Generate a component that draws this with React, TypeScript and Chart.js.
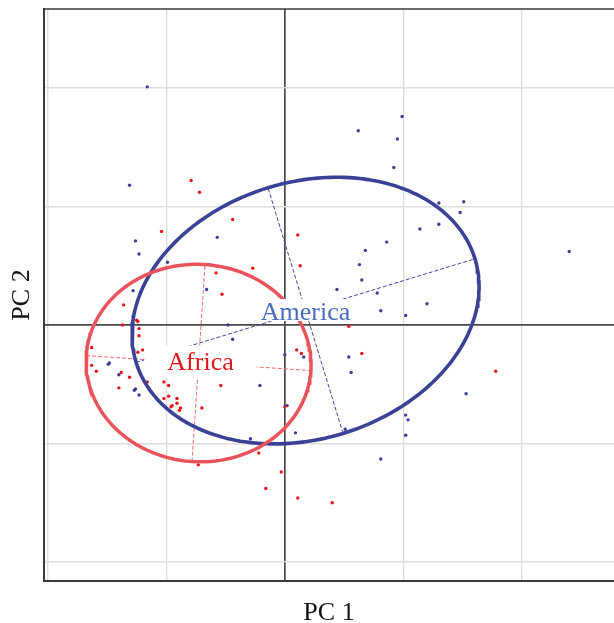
import React, { useEffect, useRef } from "react";
import { Chart, registerables } from "chart.js";

Chart.register(...registerables);

// PCA scores (PC1, PC2) per sample, grouped by region
const americaScores: [number, number][] = [
  [-1.16, 2.01], [-1.31, 1.18], [-1.26, 0.71], [-1.23, 0.6], [-0.99, 0.53],
  [-1.28, 0.29], [-0.66, 0.3], [-0.57, 0.74], [0.92, 1.33], [0.99, 1.76],
  [0.62, 1.64], [0.95, 1.57], [1.3, 1.03], [1.51, 1.04], [1.48, 0.95],
  [1.3, 0.85], [1.14, 0.81], [0.86, 0.7], [0.68, 0.63], [0.63, 0.51],
  [0.65, 0.38], [0.44, 0.3], [0.78, 0.27], [1.2, 0.18], [0.35, 0.18],
  [0.81, 0.12], [1.02, 0.08], [2.4, 0.62], [-0.48, 0.0], [-0.44, -0.12],
  [0.16, -0.27], [0.0, -0.25], [0.54, -0.27], [0.56, -0.4], [-0.21, -0.51],
  [1.53, -0.58], [0.02, -0.68], [1.02, -0.76], [1.04, -0.8], [0.51, -0.88],
  [1.02, -0.93], [0.09, -0.91], [-0.29, -0.96], [0.81, -1.13], [-1.49, -0.33],
  [-1.48, -0.32], [-1.4, -0.42], [-1.26, -0.54], [-1.27, -0.55], [-1.23, -0.59],
];

const africaScores: [number, number][] = [
  [-0.79, 1.22], [-0.72, 1.12], [-1.04, 0.79], [-0.44, 0.89], [0.11, 0.76],
  [-0.58, 0.44], [-0.27, 0.48], [0.13, 0.5], [-0.53, 0.26], [0.54, -0.01],
  [0.1, -0.21], [0.14, -0.24], [0.65, -0.24], [1.78, -0.39], [-0.54, -0.51],
  [-0.7, -0.7], [0.0, -0.69], [-0.22, -1.08], [-0.03, -1.24], [-0.16, -1.38],
  [0.11, -1.46], [0.4, -1.5], [-0.73, -1.18], [-1.36, 0.17], [-1.25, 0.04],
  [-1.24, 0.03], [-1.37, 0.0], [-1.23, -0.03], [-1.23, -0.09], [-1.63, -0.19],
  [-1.2, -0.21], [-1.24, -0.23], [-1.63, -0.34], [-1.59, -0.39], [-1.38, -0.4],
  [-1.31, -0.44], [-1.16, -0.48], [-1.02, -0.48], [-0.98, -0.51], [-1.4, -0.53],
  [-1.02, -0.62], [-0.98, -0.6], [-0.91, -0.62], [-0.91, -0.66], [-0.95, -0.68],
  [-0.96, -0.69], [-0.88, -0.7], [-0.89, -0.72],
];

// Confidence ellipses: centre, semi-axes and rotation (degrees)
const americaCenter = [0.175, 0.122];
const americaSemiAxes = [1.495, 1.084];
const americaAngle = 17;

const africaCenter = [-0.728, -0.321];
const africaSemiAxes = [0.95, 0.833];
const africaAngle = -3.8;

// Group name positions (PC1, PC2)
const americaLabelAt = [0.175, 0.122];
const africaLabelAt = [-0.711, -0.291];

const gridTicks = [-2, -1, 0, 1, 2];
const xRange = [-2.032, 2.778];
const yRange = [-2.16, 2.667];

const AMERICA_POINT = "#3d3f96";
const AFRICA_POINT = "#e8141c";
const AMERICA_LINE = "#3b4296";
const AFRICA_LINE = "#e9545c";

type Pt = { x: number; y: number };

function ellipseOutline(c: number[], ax: number[], deg: number): Pt[] {
  const th = (deg * Math.PI) / 180;
  const pts: Pt[] = [];
  for (let i = 0; i <= 240; i++) {
    const t = (i / 240) * Math.PI * 2;
    const u = ax[0] * Math.cos(t);
    const v = ax[1] * Math.sin(t);
    pts.push({
      x: c[0] + u * Math.cos(th) - v * Math.sin(th),
      y: c[1] + u * Math.sin(th) + v * Math.cos(th),
    });
  }
  return pts;
}

function ellipseAxes(c: number[], ax: number[], deg: number): [Pt[], Pt[]] {
  const th = (deg * Math.PI) / 180;
  const mx = ax[0] * Math.cos(th);
  const my = ax[0] * Math.sin(th);
  const nx = -ax[1] * Math.sin(th);
  const ny = ax[1] * Math.cos(th);
  return [
    [{ x: c[0] - mx, y: c[1] - my }, { x: c[0] + mx, y: c[1] + my }],
    [{ x: c[0] - nx, y: c[1] - ny }, { x: c[0] + nx, y: c[1] + ny }],
  ];
}

const groupLabels = [
  { text: "America", at: americaLabelAt, color: "#4a6cc0", padX: 1, padTop: 4, padBottom: 1 },
  { text: "Africa", at: africaLabelAt, color: "#e3141c", padX: 23, padTop: 6, padBottom: 8 },
];

const FONT = "'Liberation Serif', 'Times New Roman', serif";

const labelPlugin = {
  id: "groupLabels",
  afterDatasetsDraw(chart: any) {
    const { ctx, scales } = chart;
    ctx.save();
    ctx.font = `26px ${FONT}`;
    ctx.textAlign = "center";
    ctx.textBaseline = "alphabetic";
    for (const l of groupLabels) {
      const px = scales.x.getPixelForValue(l.at[0]);
      const py = scales.y.getPixelForValue(l.at[1]);
      const m = ctx.measureText(l.text);
      const w = m.width;
      const asc = m.actualBoundingBoxAscent;
      const base = py + asc / 2 + 1;
      ctx.fillStyle = "#ffffff";
      ctx.fillRect(
        px - w / 2 - l.padX,
        base - asc - l.padTop,
        w + 2 * l.padX,
        asc + l.padTop + l.padBottom
      );
      ctx.fillStyle = l.color;
      ctx.fillText(l.text, px, base);
    }
    ctx.restore();
  },
  afterDraw(chart: any) {
    const { ctx, chartArea } = chart;
    ctx.save();
    ctx.fillStyle = "#111";
    ctx.font = `26px ${FONT}`;
    ctx.textAlign = "center";
    ctx.textBaseline = "alphabetic";
    ctx.fillText("PC 1", (chartArea.left + chartArea.right) / 2, 620);
    ctx.translate(29, (chartArea.top + chartArea.bottom) / 2);
    ctx.rotate(-Math.PI / 2);
    ctx.fillText("PC 2", 0, 0);
    ctx.restore();
    // frame along the top edge
    ctx.save();
    ctx.strokeStyle = "#3a3a3a";
    ctx.lineWidth = 1.5;
    ctx.beginPath();
    ctx.moveTo(chartArea.left, chartArea.top);
    ctx.lineTo(chartArea.right, chartArea.top);
    ctx.stroke();
    ctx.restore();
  },
};

export default function App() {
  const ref = useRef<HTMLCanvasElement | null>(null);

  useEffect(() => {
    if (!ref.current) return;
    const [amMajor, amMinor] = ellipseAxes(americaCenter, americaSemiAxes, americaAngle);
    const [afMajor, afMinor] = ellipseAxes(africaCenter, africaSemiAxes, africaAngle);
    const dashed = (data: Pt[], color: string, order: number) => ({
      type: "line" as const,
      data,
      showLine: true,
      borderColor: color,
      borderWidth: 1,
      borderDash: [4, 2],
      pointRadius: 0,
      fill: false,
      order,
    });

    const chart = new Chart(ref.current, {
      type: "scatter",
      data: {
        datasets: [
          {
            type: "line",
            label: "Africa ellipse",
            data: ellipseOutline(africaCenter, africaSemiAxes, africaAngle),
            borderColor: AFRICA_LINE,
            borderWidth: 3.5,
            pointRadius: 0,
            fill: false,
            tension: 0,
            order: 1,
          } as any,
          {
            type: "line",
            label: "America ellipse",
            data: ellipseOutline(americaCenter, americaSemiAxes, americaAngle),
            borderColor: AMERICA_LINE,
            borderWidth: 3.6,
            pointRadius: 0,
            fill: false,
            tension: 0,
            order: 2,
          } as any,
          dashed(amMajor, "#4048a0", 3) as any,
          dashed(amMinor, "#4048a0", 3) as any,
          dashed(afMajor, "#f06a70", 3) as any,
          dashed(afMinor, "#f06a70", 3) as any,
          {
            label: "Africa",
            data: africaScores.map(([x, y]) => ({ x, y })),
            backgroundColor: AFRICA_POINT,
            borderWidth: 0,
            pointRadius: 1.7,
            order: 4,
          },
          {
            label: "America",
            data: americaScores.map(([x, y]) => ({ x, y })),
            backgroundColor: AMERICA_POINT,
            borderWidth: 0,
            pointRadius: 1.7,
            order: 5,
          },
        ],
      },
      options: {
        animation: false,
        responsive: false,
        devicePixelRatio: 1,
        layout: { autoPadding: false, padding: { left: 44, top: 9, right: 0, bottom: 42 } },
        plugins: {
          legend: { display: false },
          tooltip: { enabled: false },
        },
        scales: {
          x: {
            type: "linear",
            min: xRange[0],
            max: xRange[1],
            afterBuildTicks: (s: any) => {
              s.ticks = gridTicks.map((v) => ({ value: v }));
            },
            ticks: { display: false },
            grid: {
              drawTicks: false,
              color: (c: any) => (c.tick && c.tick.value === 0 ? "#484848" : "#dedede"),
              lineWidth: (c: any) => (c.tick && c.tick.value === 0 ? 1.7 : 1.4),
            },
            border: { display: true, color: "#3a3a3a", width: 2 },
          },
          y: {
            type: "linear",
            min: yRange[0],
            max: yRange[1],
            afterBuildTicks: (s: any) => {
              s.ticks = gridTicks.map((v) => ({ value: v }));
            },
            ticks: { display: false },
            grid: {
              drawTicks: false,
              color: (c: any) => (c.tick && c.tick.value === 0 ? "#484848" : "#dedede"),
              lineWidth: (c: any) => (c.tick && c.tick.value === 0 ? 1.7 : 1.4),
            },
            border: { display: true, color: "#3a3a3a", width: 2 },
          },
        },
      },
      plugins: [labelPlugin],
    });
    return () => chart.destroy();
  }, []);

  return (
    <div style={{ position: "fixed", left: 0, top: 0, width: 614, height: 623, background: "#fff" }}>
      <canvas ref={ref} width={614} height={623} style={{ display: "block" }} />
    </div>
  );
}
